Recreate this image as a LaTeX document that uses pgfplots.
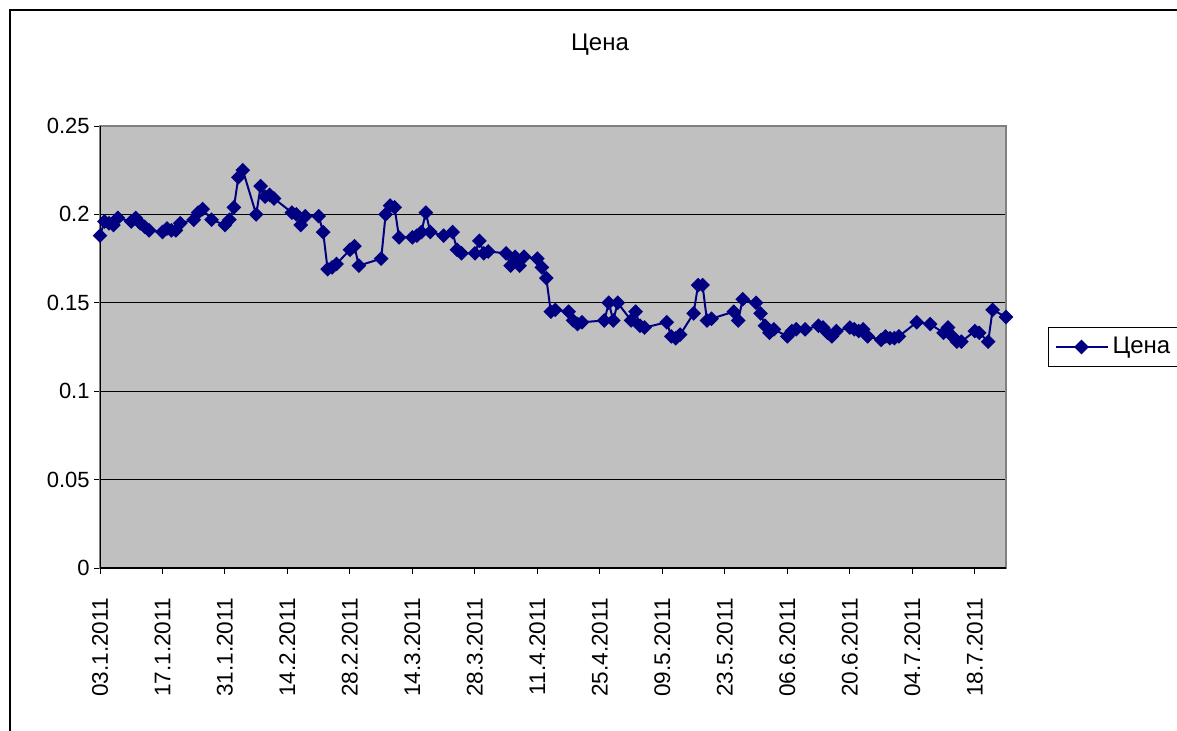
\documentclass[border=0pt]{standalone}
\usepackage{fontspec}
\setmainfont{Liberation Sans}
\usepackage{pgfplots}
\pgfplotsset{compat=1.18}

\definecolor{navy}{RGB}{0,0,128}
\definecolor{plotgray}{RGB}{192,192,192}

% price, x = days since 03.1.2011
\pgfplotstableread{
d v
0 0.188
1 0.196
2 0.195
3 0.194
4 0.198
7 0.196
8 0.198
9 0.195
10 0.193
11 0.191
14 0.190
15 0.192
16 0.191
17 0.191
18 0.195
21 0.197
22 0.201
23 0.203
25 0.197
28 0.194
29 0.197
30 0.204
31 0.221
32 0.225
35 0.200
36 0.216
37 0.210
38 0.211
39 0.209
43 0.201
44 0.200
45 0.194
46 0.199
49 0.199
50 0.190
51 0.169
52 0.170
53 0.172
56 0.180
57 0.182
58 0.171
63 0.175
64 0.200
65 0.205
66 0.204
67 0.187
70 0.187
71 0.188
72 0.190
73 0.201
74 0.190
77 0.188
79 0.190
80 0.180
81 0.178
84 0.178
85 0.185
86 0.178
87 0.179
91 0.178
92 0.171
93 0.176
94 0.171
95 0.176
98 0.175
99 0.170
100 0.164
101 0.145
102 0.146
105 0.145
106 0.140
107 0.138
108 0.139
113 0.140
114 0.150
115 0.140
116 0.150
119 0.140
120 0.145
121 0.137
122 0.136
127 0.139
128 0.131
129 0.130
130 0.132
133 0.144
134 0.160
135 0.160
136 0.140
137 0.141
142 0.145
143 0.140
144 0.152
147 0.150
148 0.144
149 0.137
150 0.133
151 0.135
154 0.131
155 0.134
156 0.135
158 0.135
161 0.137
162 0.136
163 0.133
164 0.131
165 0.134
168 0.136
169 0.135
170 0.134
171 0.135
172 0.131
175 0.129
176 0.131
177 0.130
178 0.130
179 0.131
183 0.139
186 0.138
189 0.133
190 0.136
191 0.131
192 0.128
193 0.128
196 0.134
197 0.133
199 0.128
200 0.146
203 0.142
}\price

\begin{document}
\begin{tikzpicture}
\useasboundingbox (0,0) rectangle (588.5pt,-365.5pt);
% chart area border (cut at right and bottom)
\draw[line width=1pt] (4.8pt,-380pt) -- (4.8pt,-5pt) -- (600pt,-5pt);
\node[font=\fontsize{12}{14}\selectfont] at (300pt,-22.5pt) {Цена};
\begin{axis}[
    at={(50pt,-284pt)}, anchor=south west,
    scale only axis,
    width=453pt, height=221pt,
    xmin=0, xmax=203,
    ymin=0, ymax=0.25,
    axis background/.style={fill=plotgray},
    axis line style={draw=gray, line width=0.6pt},
    xtick={0,14,...,196},
    xticklabels={03.1.2011,17.1.2011,31.1.2011,14.2.2011,28.2.2011,14.3.2011,28.3.2011,11.4.2011,25.4.2011,09.5.2011,23.5.2011,06.6.2011,20.6.2011,04.7.2011,18.7.2011},
    ytick={0,0.05,0.1,0.15,0.2,0.25},
    yticklabels={0,0.05,0.1,0.15,0.2,0.25},
    x tick label style={rotate=90, anchor=east, font=\fontsize{11.3}{13}\selectfont},
    xticklabel shift=8.5pt,
    y tick label style={font=\fontsize{11}{13}\selectfont, inner xsep=2pt},
    xtick pos=bottom, ytick pos=left,
    tick align=outside,
    major tick length=3pt,
    tick style={black, line width=0.5pt},
    ymajorgrids,
    grid style={black, line width=0.6pt},
    legend style={at={(1.0464,0.5)}, anchor=west, draw=black, line width=0.5pt,
        font=\fontsize{12}{14}\selectfont, inner sep=3pt},
    legend cell align=left,
    legend image code/.code={
        \draw[#1, line width=1pt, mark repeat=2, mark phase=2]
            plot coordinates {(0pt,0pt) (13pt,0pt) (26pt,0pt)};},
]
\draw[black, line width=0.7pt] (axis cs:0,0.25) -- (axis cs:0,0) -- (axis cs:203,0);
\addplot[navy, line width=1pt, mark=square*, mark size=2.1pt,
    mark options={rotate=45, solid, fill=navy}] table[x=d, y=v] {\price};
\addlegendentry{Цена}
\end{axis}
\end{tikzpicture}
\end{document}
